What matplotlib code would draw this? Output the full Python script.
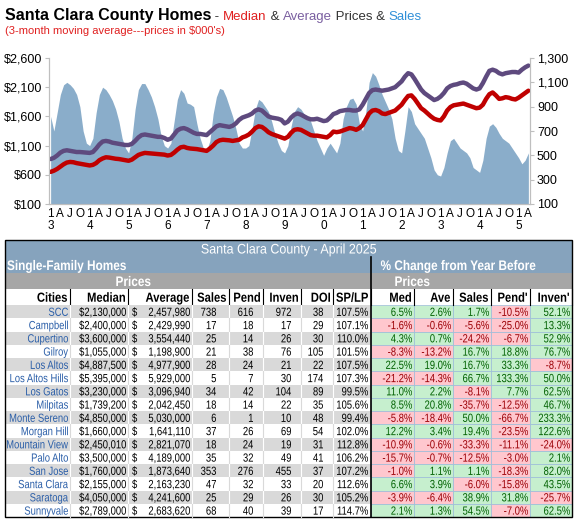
import numpy as np
import matplotlib.pyplot as plt
from matplotlib.patches import Rectangle, PathPatch
from matplotlib.textpath import TextPath
from matplotlib.font_manager import FontProperties
from matplotlib.transforms import Affine2D

# 3-month moving averages, monthly Jan 2013 .. Apr 2025 (prices in $000's)
median_k = [650, 670, 700, 740, 780, 810, 820, 815, 800, 790, 780, 770,
            760, 770, 800, 850, 880, 900, 895, 885, 875, 870, 860, 850,
            840, 860, 900, 940, 960, 975, 970, 965, 960, 955, 950, 945,
            930, 940, 980, 1030, 1070, 1080, 1060, 1050, 1045, 1040, 1030, 1020,
            1010, 1050, 1100, 1160, 1190, 1200, 1195, 1190, 1180, 1190, 1200, 1240,
            1260, 1290, 1340, 1400, 1430, 1420, 1380, 1330, 1300, 1280, 1260, 1240,
            1220, 1250, 1320, 1370, 1380, 1370, 1340, 1310, 1280, 1270, 1270, 1260,
            1250, 1240, 1280, 1340, 1330, 1340, 1360, 1380, 1400, 1390, 1370, 1400,
            1450, 1550, 1650, 1700, 1710, 1690, 1650, 1640, 1660, 1680, 1700, 1750,
            1800, 1880, 1950, 1960, 1900, 1820, 1740, 1700, 1650, 1600, 1560, 1540,
            1530, 1600, 1700, 1760, 1790, 1800, 1810, 1820, 1800, 1780, 1760, 1740,
            1750, 1800, 1900, 1980, 2010, 1960, 1900, 1910, 1930, 1920, 1900, 1890,
            1920, 1960, 2000, 2040]
average_k = [870, 890, 930, 980, 1010, 1020, 1010, 1000, 990, 990, 985, 980,
             975, 990, 1050, 1120, 1170, 1180, 1170, 1150, 1140, 1130, 1120, 1110,
             1110, 1130, 1180, 1240, 1280, 1290, 1280, 1270, 1260, 1250, 1250, 1230,
             1200, 1220, 1290, 1360, 1390, 1400, 1380, 1350, 1320, 1300, 1300, 1290,
             1280, 1330, 1380, 1430, 1450, 1440, 1430, 1420, 1440, 1480, 1540, 1580,
             1600, 1620, 1650, 1700, 1720, 1700, 1650, 1600, 1580, 1570, 1560, 1540,
             1480, 1510, 1580, 1630, 1650, 1630, 1600, 1570, 1550, 1550, 1560, 1540,
             1520, 1530, 1580, 1640, 1660, 1690, 1700, 1710, 1710, 1700, 1700, 1720,
             1800, 1900, 2000, 2050, 2060, 2050, 2040, 2050, 2060, 2080, 2100, 2150,
             2200, 2280, 2340, 2320, 2240, 2150, 2060, 2000, 1960, 1920, 1880, 1900,
             1940, 2000, 2080, 2120, 2140, 2150, 2170, 2180, 2160, 2120, 2080, 2060,
             2080, 2170, 2280, 2380, 2400, 2380, 2340, 2320, 2340, 2350, 2360, 2360,
             2350, 2400, 2440, 2470]
sales = [820, 700, 850, 1000, 1080, 1100, 1080, 1050, 1000, 900, 700, 600,
         580, 640, 850, 1000, 1060, 1040, 1000, 950, 880, 780, 640, 560,
         520, 640, 880, 1040, 1090, 1090, 1040, 980, 900, 800, 660, 580,
         560, 600, 780, 960, 1040, 1010, 930, 920, 900, 760, 640, 560,
         540, 620, 840, 980, 1050, 1040, 980, 900, 820, 720, 600, 560,
         560, 580, 720, 880, 960, 940, 900, 860, 780, 680, 600, 540,
         520, 580, 740, 860, 900, 880, 840, 820, 780, 700, 620, 560,
         500, 560, 600, 560, 520, 600, 800, 900, 960, 970, 920, 760,
         700, 860, 1100, 1180, 1150, 1080, 1000, 940, 880, 800, 640, 540,
         520, 700, 900, 860, 760, 720, 680, 640, 560, 480, 380, 340,
         330, 400, 520, 620, 640, 600, 560, 540, 520, 480, 400, 380,
         360, 460, 640, 740, 760, 730, 680, 640, 620, 600, 560, 520,
         480, 430, 460, 520]
year_digits = ["3", "4", "5", "6", "7", "8", "9", "0", "1", "2", "3", "4", "5"]

# table for April 2025
cities = ["SCC", "Campbell", "Cupertino", "Gilroy", "Los Altos", "Los Altos Hills",
          "Los Gatos", "Milpitas", "Monte Sereno", "Morgan Hill", "Mountain View",
          "Palo Alto", "San Jose", "Santa Clara", "Saratoga", "Sunnyvale"]
med_price = [2130000, 2400000, 3600000, 1055000, 4887500, 5395000, 3230000, 1739200,
             4850000, 1660000, 2450010, 3500000, 1760000, 2155000, 4050000, 2789000]
ave_price = [2457980, 2429990, 3554440, 1198900, 4977900, 5929000, 3096940, 2042450,
             5030000, 1641110, 2821070, 4189000, 1873640, 2163230, 4241600, 2683620]
n_sales = [738, 17, 25, 21, 28, 5, 34, 18, 6, 37, 18, 35, 353, 47, 25, 68]
n_pend = [616, 18, 14, 38, 24, 7, 42, 14, 1, 26, 24, 32, 276, 32, 29, 40]
n_inven = [972, 17, 26, 76, 21, 30, 104, 22, 10, 69, 19, 49, 455, 33, 26, 39]
doi = [38, 29, 30, 105, 22, 174, 89, 35, 48, 54, 31, 41, 37, 20, 30, 17]
sp_lp = [107.5, 107.1, 110.0, 101.5, 107.5, 107.3, 99.5, 105.6, 99.4, 102.0, 112.8,
         106.2, 107.2, 112.6, 105.2, 114.7]
chg_med = [6.5, -1.6, 4.3, -8.3, 22.5, -21.2, 11.0, 8.5, -5.8, 12.2, -10.9, -15.7, -1.0, 6.6, -3.9, 2.1]
chg_ave = [2.6, -0.6, 0.7, -13.2, 19.0, -14.3, 2.2, 20.8, -18.4, 3.4, -0.6, -0.7, 1.1, 3.9, -6.4, 1.3]
chg_sales = [1.7, -5.6, -24.2, 16.7, 16.7, 66.7, -8.1, -35.7, 50.0, 19.4, -33.3, -12.5, 1.1, -6.0, 38.9, 54.5]
chg_pend = [-10.5, -25.0, -6.7, 18.8, 33.3, 133.3, 7.7, -12.5, -66.7, -23.5, -11.1, -3.0, -18.3, -15.8, 31.8, -7.0]
chg_inven = [52.1, 13.3, 52.9, 76.7, -8.7, 50.0, 62.5, 46.7, 233.3, 122.6, -24.0, 2.1, 82.0, 43.5, -25.7, 62.5]

plt.rcParams['font.family'] = ['Liberation Sans', 'DejaVu Sans']
W, H = 575, 519
fig = plt.figure(figsize=(W / 100, H / 100), dpi=100)

# ---- chart ----
ax = fig.add_axes([49 / W, 1 - 204 / H, (530 - 49) / W, (204 - 58) / H])
ax2 = ax.twinx()
x = np.arange(len(median_k))
ax2.fill_between(x, 100, sales, color="#8aadca", lw=0)
ax2.set_ylim(100, 1300)
ax2.set_yticks(range(100, 1301, 200))
ax2.set_yticklabels([f"{v:,}" for v in range(100, 1301, 200)])
ax.set_zorder(ax2.get_zorder() + 1)
ax.patch.set_visible(False)
ax.plot(x, average_k, color="#5e4a7e", lw=3.2, solid_capstyle="round")
ax.plot(x, median_k, color="#c00000", lw=3.2, solid_capstyle="round")
ax.set_ylim(100, 2600)
ax.set_yticks(range(100, 2601, 500))
ax.set_yticklabels([f"${v:,}" for v in range(100, 2601, 500)])
ax.set_xlim(-0.5, len(x) - 0.5)
ticks = np.arange(0, len(x), 3)
labels = []
for tk in ticks:
    m = tk % 12
    if m == 0:
        labels.append("1\n" + year_digits[tk // 12])
    else:
        labels.append({3: "A", 6: "J", 9: "O"}[m])
ax.set_xticks(ticks)
ax.set_xticklabels(labels, linespacing=1.0)
for a in (ax, ax2):
    for s in a.spines.values():
        s.set_color("#bfbfbf")
    a.spines["top"].set_visible(False)
    a.tick_params(labelsize=9, length=3, color="#bfbfbf", pad=2)
ax.tick_params(axis="x", length=0, pad=3, labelsize=8.5)

# ---- title + table in pixel coordinates ----
t = fig.add_axes([0, 0, 1, 1], zorder=-5)
t.set_xlim(0, W)
t.set_ylim(H, 0)
t.axis("off")

fig.canvas.draw()
rend = fig.canvas.get_renderer()
inv = t.transData.inverted()


def chain(pieces, x0, y0):
    xx = x0
    for txt, col, wt, fs in pieces:
        tx = t.text(xx, y0, txt, color=col, fontweight=wt, va="baseline", fontsize=fs)
        bb = tx.get_window_extent(rend)
        xx = inv.transform((bb.x1, bb.y0))[0]


chain([("Santa Clara County Homes", "black", "bold", 11.5),
       (" - ", "#333333", "normal", 9.5), ("Median", "#e02020", "normal", 9.5),
       (" & ", "#333333", "normal", 9.5), ("Average", "#7a5fa0", "normal", 9.5),
       (" Prices & ", "#333333", "normal", 9.5), ("Sales", "#2f8fd8", "normal", 9.5)], 5, 20)
t.text(5, 34, "(3-month moving average---prices in $000's)", color="#e02020",
       fontsize=8, va="baseline")

FP = {"normal": FontProperties(family="Liberation Sans"),
      "bold": FontProperties(family="Liberation Sans", weight="bold")}


def ntext(xp, yc, s, fs=8.5, ha="right", color="black", weight="normal", sx=0.8):
    # condensed text drawn as a path, in pixel coordinates
    px = fs * 100 / 72
    tp = TextPath((0, 0), s, size=px, prop=FP[weight])
    w = tp.get_extents().x1 * sx
    dx = {"right": -w, "left": 0, "center": -w / 2}[ha]
    tr = Affine2D().scale(sx, -1).translate(xp + dx, yc + 0.36 * px)
    t.add_patch(PathPatch(tr.transform_path(tp), fc=color, ec="none", lw=0))


def rect(x0, y0, x1, y1, fc, ec="none", lw=0.6):
    t.add_patch(Rectangle((x0, y0), x1 - x0, y1 - y0, fc=fc, ec=ec, lw=lw))


L, R, MID = 5, 572, 371
blue_bg, grey_bg = "#86a3bd", "#a6a6a6"
rect(L, 240, R, 257, blue_bg, "#3d5a75")
ntext((L + R) / 2, 248.5, "Santa Clara County - April 2025", fs=10, ha="center",
      color="white", sx=0.9)
rect(L, 257, R, 273, blue_bg)
ntext(7, 265, "Single-Family Homes", fs=10, ha="left", color="white", weight="bold", sx=0.85)
ntext(458, 265, "% Change from Year Before", fs=10, ha="center", color="white",
      weight="bold", sx=0.85)
rect(L, 273, R, 289, grey_bg)
ntext(133, 281, "Prices", fs=10, ha="center", color="white", weight="bold", sx=0.85)
ntext(412, 281, "Prices", fs=10, ha="center", color="white", weight="bold", sx=0.85)

edges = [L, 70, 128, 192, 229, 263, 301, 333, MID, 414, 453, 491, 530, R]
heads = ["Cities", "Median", "Average", "Sales", "Pend", "Inven", "DOI", "SP/LP",
         "Med", "Ave", "Sales", "Pend'", "Inven'"]
hy0, hy1 = 289, 305
rect(L, hy0, R, hy1, "white")
for i, h in enumerate(heads):
    t.plot([edges[i + 1]] * 2, [hy0, hy1], color="black", lw=0.8)
    ntext(edges[i + 1] - 3, (hy0 + hy1) / 2, h, fs=9.5, weight="bold", sx=0.85)

rh = (517 - hy1) / len(cities)
right_cols = [chg_med, chg_ave, chg_sales, chg_pend, chg_inven]
for r, city in enumerate(cities):
    y0 = hy1 + r * rh
    yc = y0 + rh / 2
    rect(L, y0, MID, y0 + rh, "#d9d9d9" if r % 2 == 0 else "white")
    for e in edges[1:8]:
        t.plot([e, e], [y0, y0 + rh], color="white" if r % 2 == 0 else "#d9d9d9", lw=0.8)
    ntext(68, yc, city, color="#2a5ea8")
    ntext(126, yc, f"${med_price[r]:,}")
    ntext(132, yc, "$", ha="left")
    ntext(190, yc, f"{ave_price[r]:,}")
    ntext(216, yc, str(n_sales[r]))
    ntext(253, yc, str(n_pend[r]))
    ntext(291, yc, str(n_inven[r]))
    ntext(323, yc, str(doi[r]))
    ntext(368, yc, f"{sp_lp[r]:.1f}%")
    for c, col in enumerate(right_cols):
        v = col[r]
        fc, tc = ("#c6efce", "#006100") if v >= 0 else ("#ffc7ce", "#9c0006")
        rect(edges[8 + c], y0, edges[9 + c], y0 + rh, fc, "#9bbbd9", 0.5)
        ntext(edges[9 + c] - 2, yc, f"{v:.1f}%", color=tc)

t.plot([MID, MID], [257, 517], color="black", lw=1.2)
rect(L, 240, R, 517, "none", "black", 1.0)

fig.savefig("out.png", dpi=100)
